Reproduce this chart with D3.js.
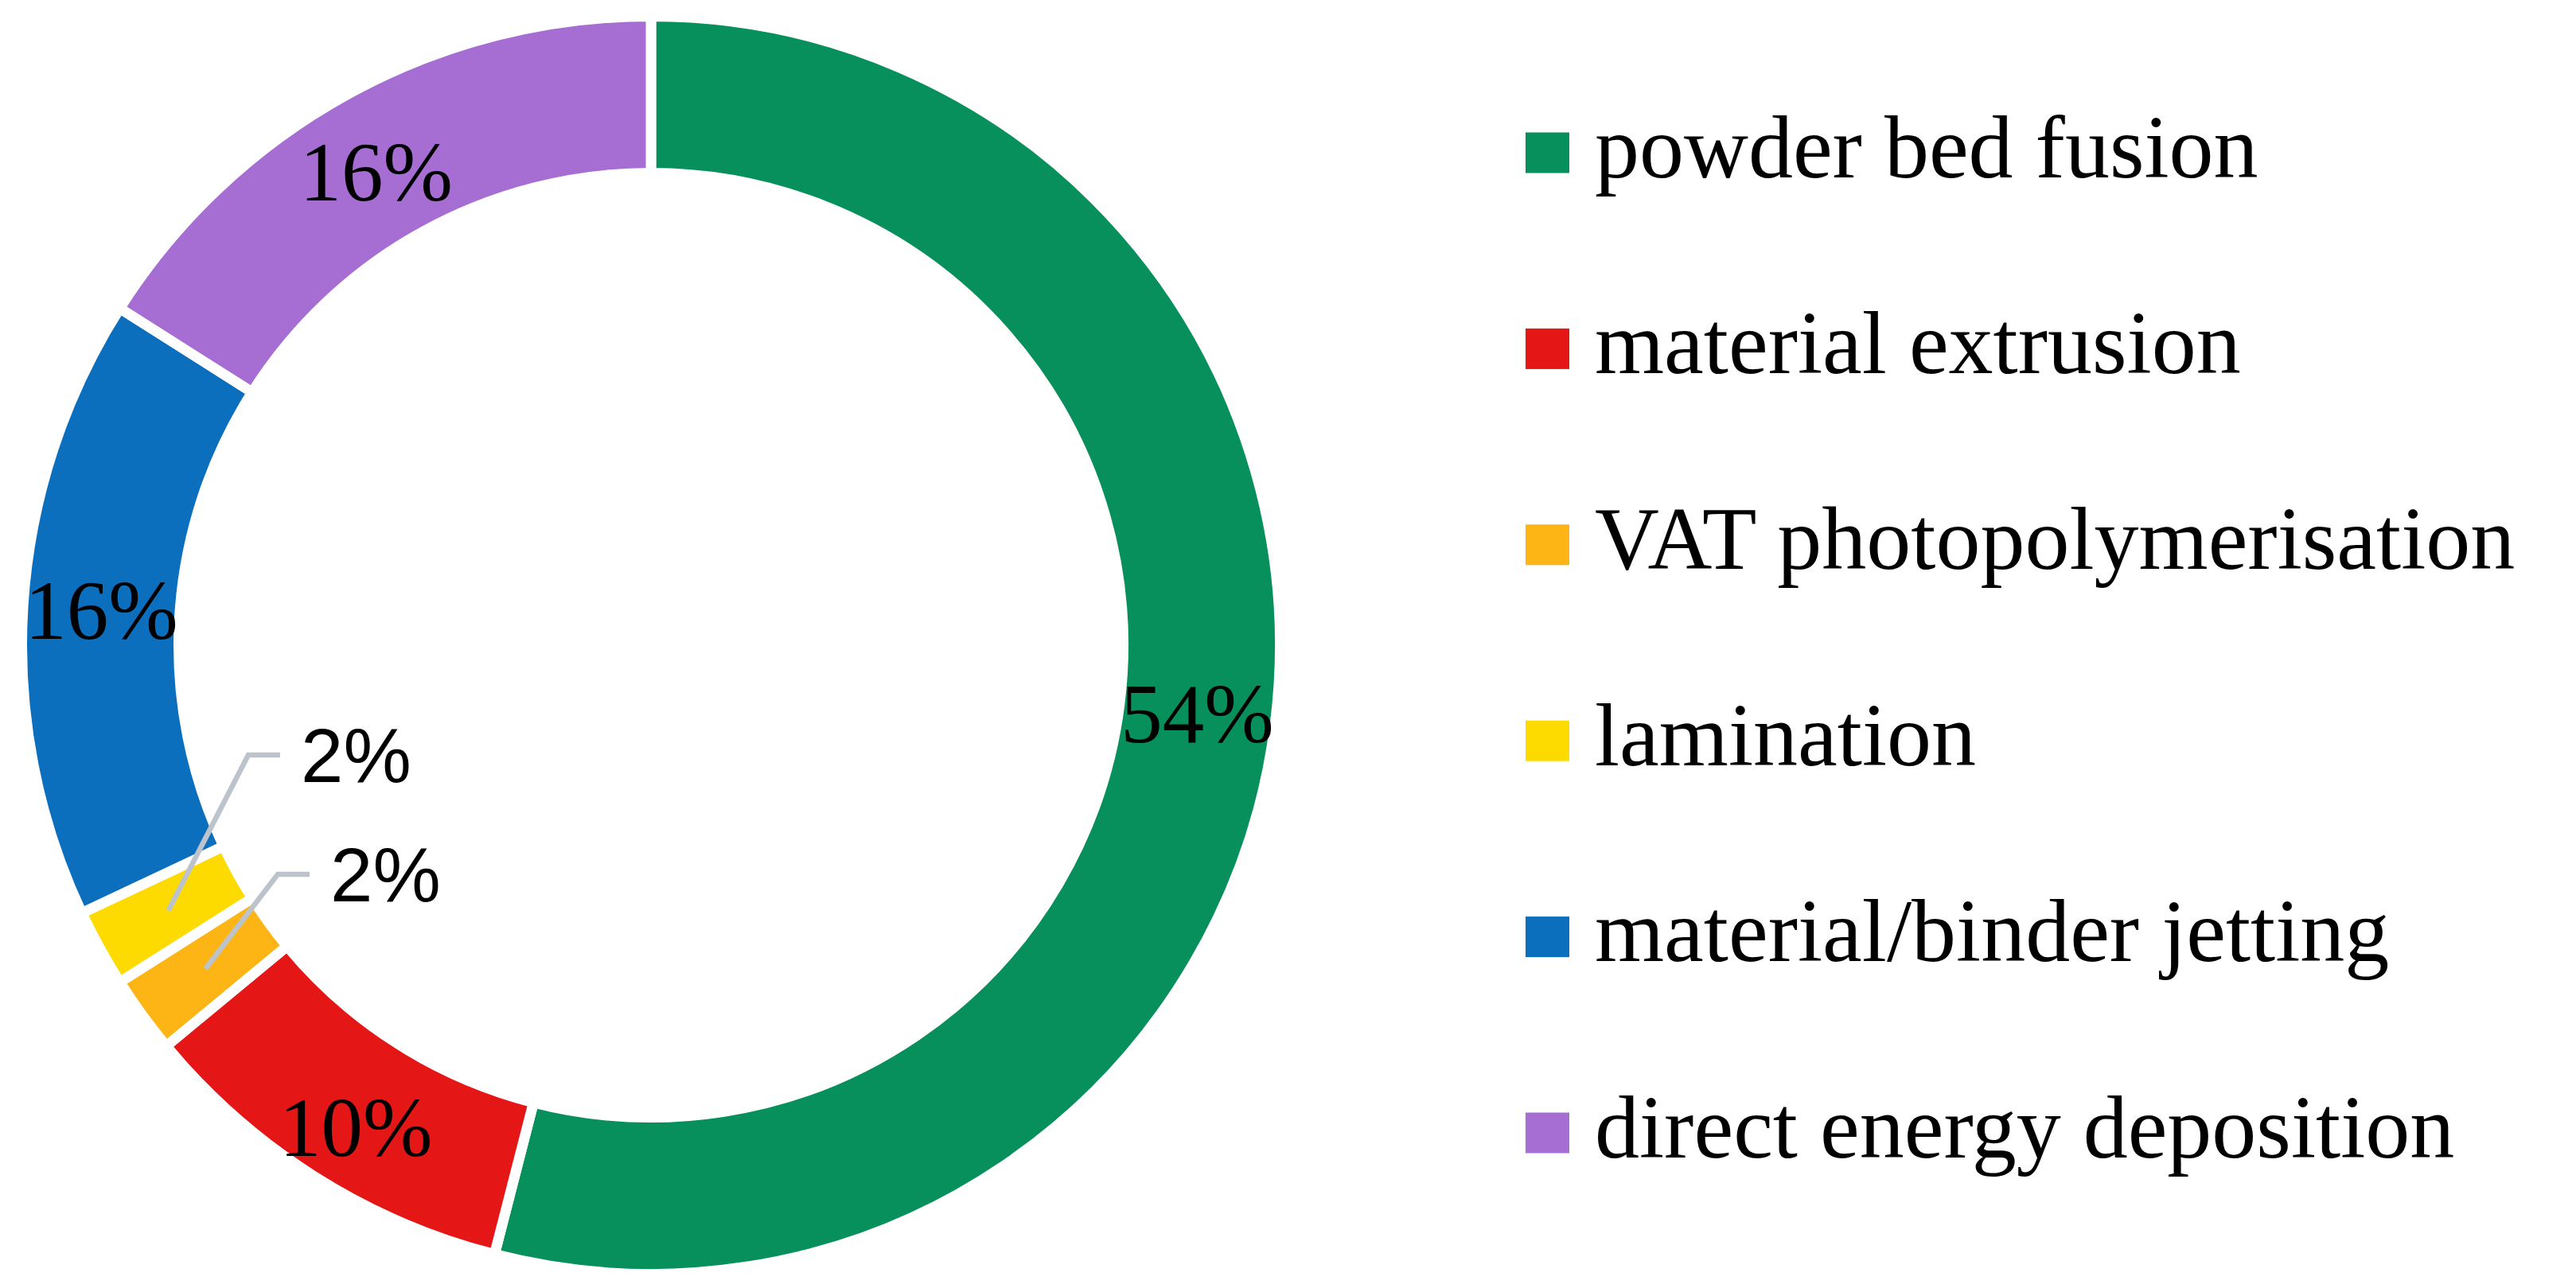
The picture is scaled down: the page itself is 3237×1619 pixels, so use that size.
<!DOCTYPE html>
<html>
<head>
<meta charset="utf-8">
<script src="https://cdnjs.cloudflare.com/ajax/libs/d3/7.8.5/d3.min.js"></script>
<style>
  html, body { margin: 0; padding: 0; background: #ffffff; }
  svg { display: block; }
</style>
</head>
<body>
<svg id="chart" width="3237" height="1619"></svg>
<script>
// ---- data ----
const categories = [
  "powder bed fusion",
  "material extrusion",
  "VAT photopolymerisation",
  "lamination",
  "material/binder jetting",
  "direct energy deposition"
];
const values = [54, 10, 2, 2, 16, 16];
const colors = ["#078F5C", "#E51616", "#FDB515", "#FEDB00", "#0B6FBE", "#A66DD2"];
const valueLabels = ["54%", "10%", "2%", "2%", "16%", "16%"];
// which slices get an outside label with leader line
const outsideLabel = [false, false, true, true, false, false];

// ---- layout ----
const W = 3237, H = 1619;
const cx = 818, cy = 811;
const rOuter = 784, rInner = 600;
const gap = 13;
const svg = d3.select("#chart");

const pie = d3.pie().sort(null).value(d => d.value);
const arcs = pie(categories.map((c, i) => ({ name: c, value: values[i], i })));

const arcGen = d3.arc()
  .innerRadius(rInner - gap / 2)
  .outerRadius(rOuter + gap / 2);
const midR = (rInner + rOuter) / 2;
const labelArc = d3.arc().innerRadius(midR).outerRadius(midR);

const g = svg.append("g").attr("transform", `translate(${cx},${cy})`);

g.selectAll("path.slice")
  .data(arcs)
  .enter().append("path")
  .attr("class", "slice")
  .attr("d", arcGen)
  .attr("fill", d => colors[d.data.i])
  .attr("stroke", "#ffffff")
  .attr("stroke-width", gap)
  .attr("stroke-linejoin", "miter");

// inside labels (small placement nudges as in the original)
const nudge = { 1: [0, 22], 5: [-12, 12] };
const serif = "'Liberation Serif', 'Times New Roman', serif";
g.selectAll("text.inlab")
  .data(arcs.filter(d => !outsideLabel[d.data.i]))
  .enter().append("text")
  .attr("class", "inlab")
  .attr("x", d => labelArc.centroid(d)[0] + (nudge[d.data.i] ? nudge[d.data.i][0] : 0))
  .attr("y", d => labelArc.centroid(d)[1] + (nudge[d.data.i] ? nudge[d.data.i][1] : 0))
  .attr("text-anchor", "middle")
  .attr("dominant-baseline", "central")
  .attr("font-family", serif)
  .attr("font-size", 105)
  .attr("fill", "#000")
  .text(d => valueLabels[d.data.i]);

// outside labels with leader lines (label placement offsets from the centre)
const outsidePos = { 2: [-403, 288], 3: [-440, 138] };
const outs = arcs.filter(d => outsideLabel[d.data.i]);
outs.forEach(d => {
  const p0 = labelArc.centroid(d);
  const [lx, ly] = outsidePos[d.data.i];
  const xEnd = lx - 26;
  const xElbow = xEnd - 40;
  g.append("polyline")
    .attr("points", [[p0[0], p0[1]], [xElbow, ly], [xEnd, ly]].map(p => p.join(",")).join(" "))
    .attr("fill", "none")
    .attr("stroke", "#BCC3CA")
    .attr("stroke-width", 6.5);
  g.append("text")
    .attr("x", lx)
    .attr("y", ly)
    .attr("dominant-baseline", "central")
    .attr("font-family", "'Liberation Sans', Arial, sans-serif")
    .attr("font-size", 96)
    .attr("fill", "#000")
    .text(valueLabels[d.data.i]);
});

// legend
const legX = 1917, legY0 = 192.5, legStep = 246.4, sq = 54;
const leg = svg.append("g");
const rows = leg.selectAll("g.row")
  .data(categories)
  .enter().append("g")
  .attr("class", "row")
  .attr("transform", (d, i) => `translate(${legX},${legY0 + i * legStep})`);
rows.append("rect")
  .attr("x", 0).attr("y", -sq / 2 + 1)
  .attr("width", 55).attr("height", 51)
  .attr("fill", (d, i) => colors[i]);
rows.append("text")
  .attr("x", 87)
  .attr("y", 30)
  .attr("font-family", serif)
  .attr("font-size", 112)
  .attr("fill", "#000")
  .text(d => d);
</script>
</body>
</html>
